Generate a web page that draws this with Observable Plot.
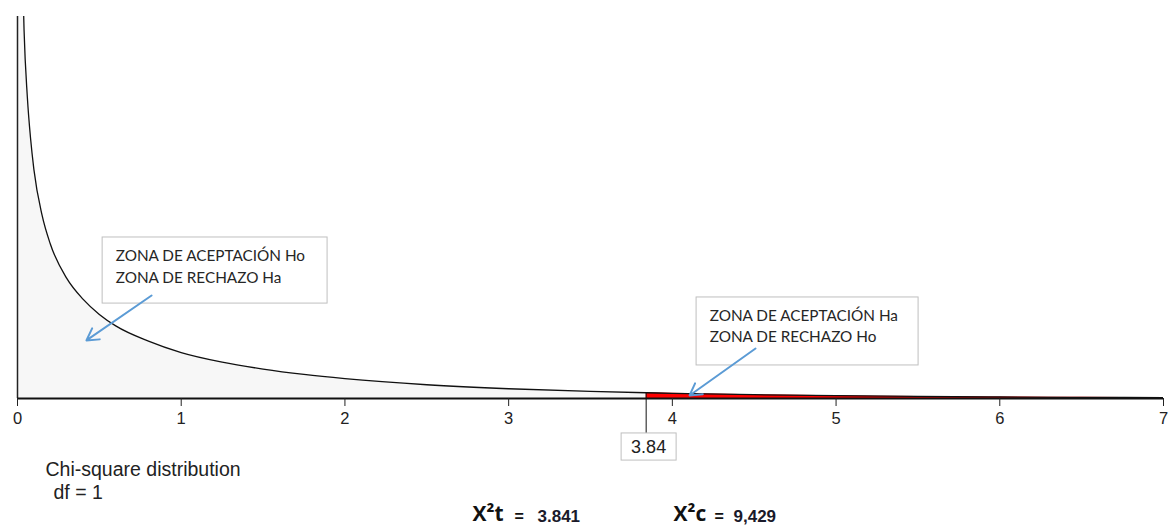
<!DOCTYPE html>
<html>
<head>
<meta charset="utf-8">
<script src="https://cdn.jsdelivr.net/npm/d3@7"></script>
<script src="https://cdn.jsdelivr.net/npm/@observablehq/plot@0.6"></script>
<style>
  html, body { margin: 0; padding: 0; background: #fff; }
  #chart svg { display: block; }
</style>
</head>
<body>
<div id="chart"></div>
<script>
// Chi-square density (df = 1)
const chiX = [0.005, 0.02, 0.03, 0.04, 0.06, 0.08, 0.1, 0.15, 0.2, 0.3, 0.4, 0.5, 0.6, 0.8, 1, 1.25, 1.5, 1.75, 2, 2.5, 3, 3.5, 3.84, 4, 4.5, 5, 5.5, 6, 6.5, 7];
const chiY = [5.6, 2.8, 2.27, 1.93, 1.58, 1.36, 1.20, 0.96, 0.81, 0.63, 0.52, 0.44, 0.38, 0.30, 0.24, 0.19, 0.154, 0.126, 0.104, 0.072, 0.051, 0.037, 0.030, 0.027, 0.020, 0.0147, 0.0109, 0.0081, 0.0061, 0.0046];
const critical = 3.84;
const xTicks = [0, 1, 2, 3, 4, 5, 6, 7];

// annotation boxes (data units)
const boxX1 = [0.52, 4.148];
const boxX2 = [1.894, 5.504];
const boxY1 = [0.843, 0.529];
const boxY2 = [0.497, 0.173];
const boxLines = [
  ["ZONA DE ACEPTACIÓN Ho", "ZONA DE RECHAZO Ha"],
  ["ZONA DE ACEPTACIÓN Ha", "ZONA DE RECHAZO Ho"]
];
const arrowFrom = [[0.819, 0.539], [4.508, 0.262]];
const arrowTo = [[0.421, 0.304], [4.105, 0.016]];

const captionLines = ["Chi-square distribution", "df = 1"];
const statLabels = ["X²t", "X²c"];
const statValues = ["3.841", "9,429"];

// build tables
const curve = chiX.map((x, i) => ({x, y: chiY[i]}));
const leftPart = curve.filter(d => d.x <= critical);
const rightPart = curve.filter(d => d.x >= critical);
const critY = chiY[chiX.indexOf(critical)];
const boxes = boxX1.map((x1, i) => ({x1, x2: boxX2[i], y1: boxY1[i], y2: boxY2[i]}));
const boxText = [];
boxes.forEach((b, i) => boxLines[i].forEach((t, j) => boxText.push({
  x: b.x1 + 0.08, y: b.y1 - 0.095 - j * 0.115, text: t
})));
const arrows = arrowFrom.map((f, i) => ({x1: f[0], y1: f[1], x2: arrowTo[i][0], y2: arrowTo[i][1]}));

const below = (text, dx, dy, opts = {}) => Plot.text([text], {
  frameAnchor: "bottom-left", dx, dy, text: d => d, textAnchor: "start", lineAnchor: "middle", ...opts
});

const plot = Plot.plot({
  width: 1171,
  height: 528,
  marginLeft: 17,
  marginRight: 8,
  marginTop: 16,
  marginBottom: 130,
  style: {fontFamily: "'Liberation Sans', Arial, sans-serif", fontSize: "16px", color: "#222", background: "#fff"},
  x: {domain: [0, 7]},
  y: {domain: [0, 2], axis: null},
  marks: [
    Plot.areaY(leftPart, {x: "x", y: "y", fill: "#f7f7f7", curve: "monotone-x", clip: true}),
    Plot.areaY(rightPart, {x: "x", y: "y", fill: "#ff0000", curve: "monotone-x", clip: true}),
    Plot.ruleX([0], {y1: 0, y2: 2, stroke: "#222", strokeWidth: 1.5}),
    Plot.lineY(curve, {x: "x", y: "y", stroke: "#111", strokeWidth: 1.3, curve: "monotone-x", clip: true}),
    Plot.ruleY([0], {stroke: "#111", strokeWidth: 2}),
    Plot.axisX(xTicks, {tickSize: 8, tickPadding: 6, tickFormat: "d", fontSize: 16.5, fill: "#222", stroke: "#222"}),
    // critical value marker
    Plot.ruleX([critical], {y1: critY, y2: -0.183, stroke: "#111", strokeWidth: 1}),
    Plot.rect([critical], {x1: 3.690, x2: 4.026, y1: -0.183, y2: -0.325, fill: "white", stroke: "#bfbfbf"}),
    Plot.text([critical], {x: d => d + 0.015, y: -0.254, text: d => d.toFixed(2), fontSize: 18, fill: "#222"}),
    // annotation boxes and arrows
    Plot.rect(boxes, {x1: "x1", x2: "x2", y1: "y1", y2: "y2", fill: "white", stroke: "#bfbfbf", strokeWidth: 1}),
    Plot.text(boxText, {x: "x", y: "y", text: "text", textAnchor: "start", fontFamily: "Lato, 'Open Sans', sans-serif", fontSize: 15.3, fill: "#262626"}),
    Plot.arrow(arrows, {x1: "x1", y1: "y1", x2: "x2", y2: "y2", stroke: "#5b9bd5", strokeWidth: 2, headLength: 10, bend: 0}),
    // captions below
    below(captionLines[0], 28, 71, {fontSize: 19.5, fill: "#222"}),
    below(captionLines[1], 36, 94, {fontSize: 19.5, fill: "#222"}),
    // statistics line
    below(statLabels[0], 455, 116, {fontSize: 21, fontWeight: "bold", fontFamily: "'Open Sans', sans-serif", fill: "#111"}),
    below("=", 497, 118, {fontSize: 16, fontWeight: "bold", fill: "#111"}),
    below(statValues[0], 520, 118, {fontSize: 17, fontWeight: "bold", fill: "#1a1a2a"}),
    below(statLabels[1], 656, 116, {fontSize: 21, fontWeight: "bold", fontFamily: "'Open Sans', sans-serif", fill: "#111"}),
    below("=", 697, 118, {fontSize: 16, fontWeight: "bold", fill: "#111"}),
    below(statValues[1], 716, 118, {fontSize: 17, fontWeight: "bold", fill: "#1a1a2a"})
  ]
});
document.getElementById("chart").appendChild(plot);
</script>
</body>
</html>
